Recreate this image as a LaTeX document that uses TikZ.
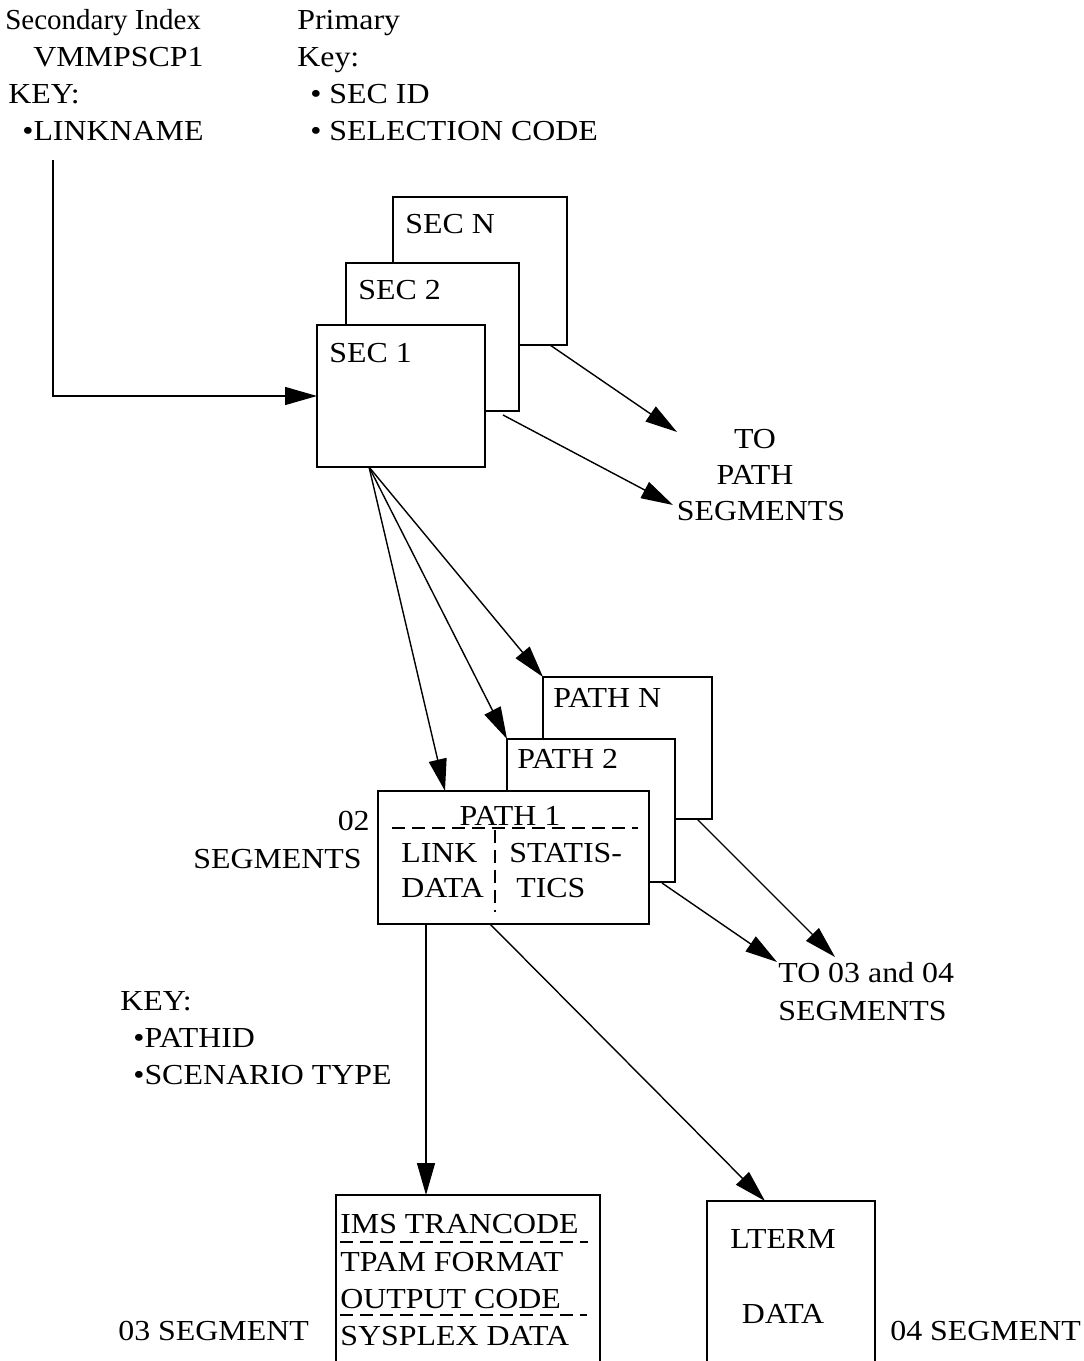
\documentclass[tikz,border=0pt]{standalone}
\usepackage{fontspec}
\setmainfont{Liberation Serif}[FakeStretch=1.10]
\newfontfamily\plainrm{Liberation Serif}
\usepackage{tikz}
\usetikzlibrary{arrows.meta,positioning}

\begin{document}
\begin{tikzpicture}[
  x=0.02cm,y=-0.02cm,
  font=\fontsize{16.5}{21}\selectfont,
  box/.style={rectangle,draw,fill=white,line width=0.9pt,
              anchor=north west,inner sep=0pt,outer sep=0pt},
  sz/.style 2 args={minimum width=#1*0.02cm,minimum height=#2*0.02cm},
  lbl/.style={inner sep=0pt,anchor=base west},
  lblc/.style={inner sep=0pt,anchor=base},
  lblr/.style={inner sep=0pt,anchor=base east},
  arr/.style={-{Triangle[length=0.64cm,width=0.36cm]},line width=0.8pt},
  divider/.style={line width=0.8pt,dash pattern=on 0.26cm off 0.14cm}
]
\useasboundingbox (0,0) rectangle (1084,1361);
\clip (0,0) rectangle (1084,1361);

% --- Index keys
\node[lbl,font=\plainrm\fontsize{16.5}{21}\selectfont] (sidx1) at (5,30) {Secondary Index};
\node[lbl] (sidx2) at (33,67)  {VMMPSCP1};
\node[lbl] (sidx3) at (8,104)  {KEY:};
\node[lbl] (sidx4) at (22,141) {•LINKNAME};
\node[lbl] (pk1) at (297,30)  {Primary};
\node[lbl] (pk2) at (297,67)  {Key:};
\node[lbl] (pk3) at (310,104) {• SEC ID};
\node[lbl] (pk4) at (310,141) {• SELECTION CODE};

% --- 01 segments
\node[box,sz={174}{148}] (secN) at (393,197) {};
\node[box,sz={173}{148}] (sec2) at (346,263) {};
\node[box,sz={168}{142}] (sec1) at (317,325) {};
\node[lbl] at ([shift={(12,37)}] secN.north west) {SEC N};
\node[lbl] at ([shift={(12,37)}] sec2.north west) {SEC 2};
\node[lbl] at ([shift={(12,38)}] sec1.north west) {SEC 1};

\node[lblc] (to1) at (755,448) {TO};
\node[lblc] (to2) at (755,484) {PATH};
\node[lblc] (to3) at (761,520) {SEGMENTS};
\coordinate (toA) at (677,432);
\coordinate (toB) at (673,505);

\draw[arr] ([shift={(31,19)}] sidx4.base west) |- (sec1.west);
\draw[arr] ([shift={(157,0)}] secN.south west) -- (toA);
\draw[arr] ([shift={(-16,4)}] sec2.south east) -- (toB);

% --- 02 segments
\node[box,sz={169}{142}] (pathN) at (543,677) {};
\node[box,sz={168}{143}] (path2) at (507,739) {};
\node[box,sz={271}{133}] (path1) at (378,791) {};
\node[lbl] at ([shift={(10,30)}] pathN.north west) {PATH N};
\node[lbl] at ([shift={(10,29)}] path2.north west) {PATH 2};
\node[lblc] (p1t) at (510,825) {PATH 1};
\draw[divider] (392,828) -- (638,828);
\draw[divider] (495,830) -- (495,912);
\node[lbl] at (401,862) {LINK};
\node[lbl] at (401,897) {DATA};
\node[lbl] at (509,862) {STATIS-};
\node[lbl] at (516,897) {TICS};
\node[lblr] at (370,830) {02};
\node[lblr] at (362,868) {SEGMENTS};

\draw[arr] ([shift={(52,0)}] sec1.south west) -- ([shift={(67,0)}] path1.north west);
\draw[arr] ([shift={(52,0)}] sec1.south west) -- (path2.north west);
\draw[arr] ([shift={(52,0)}] sec1.south west) -- (pathN.north west);

\node[lbl] (t03a) at (778,982)  {TO 03 and 04};
\node[lbl] (t03b) at (778,1020) {SEGMENTS};
\coordinate (toC) at (777,962);
\coordinate (toD) at (835,957);
\draw[arr] ([shift={(-13,1)}] path2.south east) -- (toC);
\draw[arr] ([shift={(-15,0)}] pathN.south east) -- (toD);

\node[lbl] at (120,1010) {KEY:};
\node[lbl] at (133,1047) {•PATHID};
\node[lbl] at (133,1084) {•SCENARIO TYPE};

% --- 03 and 04 segments
\node[box,sz={264}{220}] (ims) at (336,1195) {};
\node[box,sz={168}{220}] (lterm) at (707,1201) {};
\node[lbl] at (340,1233) {IMS TRANCODE};
\node[lbl] at (340,1271) {TPAM FORMAT};
\node[lbl] at (340,1308) {OUTPUT CODE};
\node[lbl] at (340,1345) {SYSPLEX DATA};
\draw[divider] (340,1242) -- (588,1242);
\draw[divider] (340,1315) -- (587,1315);
\node[lblc] at (783,1248) {LTERM};
\node[lblc] at (783,1323) {DATA};
\node[lbl] at (118,1340) {03 SEGMENT};
\node[lbl] at (890,1340) {04 SEGMENT};

\draw[arr] ([shift={(48,0)}] path1.south west) -- ([shift={(90,0)}] ims.north west);
\draw[arr] ([shift={(112,0)}] path1.south west) -- ([shift={(58,0)}] lterm.north west);
\end{tikzpicture}
\end{document}
